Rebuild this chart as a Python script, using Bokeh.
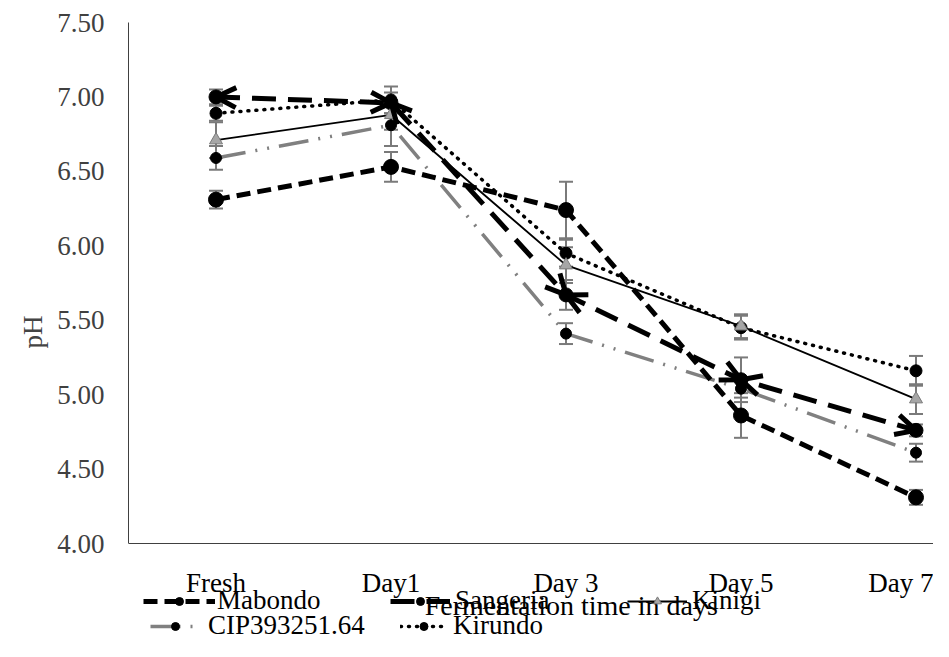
import numpy as np
from bokeh.plotting import figure
from bokeh.models import (ColumnDataSource, Whisker, Arrow, OpenHead, TeeHead, Legend,
                          LegendItem, Label, FixedTicker, Range1d, NumeralTickFormatter)
from bokeh.embed import file_html
from bokeh.resources import INLINE

# ---- data ----
cats = ["Fresh", "Day1", "Day 3", "Day 5", "Day 7"]
mabondo = [6.31, 6.53, 6.24, 4.86, 4.31]
sangeria = [7.00, 6.96, 5.67, 5.10, 4.76]
kinigi = [6.71, 6.88, 5.87, 5.46, 4.97]
cip = [6.59, 6.81, 5.41, 5.04, 4.61]
kirundo = [6.89, 6.98, 5.95, 5.45, 5.16]

mabondo_err = [0.06, 0.10, 0.19, 0.15, 0.05]
sangeria_err = [0.05, 0.07, 0.10, 0.15, 0.04]
kinigi_err = [0.12, 0.10, 0.12, 0.08, 0.10]
cip_err = [0.08, 0.14, 0.07, 0.06, 0.06]
kirundo_err = [0.05, 0.09, 0.09, 0.08, 0.10]

y_ticks = [4.0, 4.5, 5.0, 5.5, 6.0, 6.5, 7.0, 7.5]
y_min, y_max = 4.0, 7.5
x_title = "Fermentation time in days"
y_title = "pH"

FONT = "Liberation Serif"
FS = "27px"

W, H = 933, 641
LEFT, TOP = 128, 22
AXIS_PX = 521                       # pixel height of the 4.0..7.5 span
px_per_unit = AXIS_PX / (y_max - y_min)
y_start = y_max - (H - TOP) / px_per_unit
cat_px = 175
x_end = (W - LEFT) / cat_px

xs = list(np.arange(len(cats)) + 0.5)

p = figure(width=W, height=H, output_backend="svg", toolbar_location=None,
           x_range=Range1d(0, x_end), y_range=Range1d(y_start, y_max),
           min_border_left=LEFT, min_border_right=0, min_border_top=TOP, min_border_bottom=0)
p.grid.visible = False
p.outline_line_color = None
p.background_fill_color = "white"
p.border_fill_color = "white"

# axes
p.yaxis.ticker = FixedTicker(ticks=y_ticks)
p.yaxis.formatter = NumeralTickFormatter(format="0.00")
p.yaxis.bounds = (y_min, y_max)
p.xaxis.ticker = FixedTicker(ticks=xs)
p.xaxis.major_label_overrides = {float(x): c for x, c in zip(xs, cats)}
p.xaxis.fixed_location = y_min
for ax in (p.xaxis, p.yaxis):
    ax.major_tick_line_color = None
    ax.minor_tick_line_color = None
    ax.major_tick_out = 0
    ax.major_tick_in = 0
    ax.axis_line_color = "#404040"
    ax.axis_line_width = 1
    ax.major_label_text_font = FONT
    ax.major_label_text_font_size = FS
p.yaxis.major_label_text_color = "#404040"
p.xaxis.major_label_text_color = "black"
p.yaxis.major_label_standoff = 24
p.xaxis.major_label_standoff = 24
p.yaxis.axis_label = y_title
p.yaxis.axis_label_text_font = FONT
p.yaxis.axis_label_text_font_size = FS
p.yaxis.axis_label_text_font_style = "normal"
p.yaxis.axis_label_standoff = 6

# error bars
for vals, errs in [(mabondo, mabondo_err), (sangeria, sangeria_err), (kinigi, kinigi_err),
                   (cip, cip_err), (kirundo, kirundo_err)]:
    src = ColumnDataSource(dict(x=xs, upper=[v + e for v, e in zip(vals, errs)],
                                lower=[v - e for v, e in zip(vals, errs)]))
    w = Whisker(base="x", upper="upper", lower="lower", source=src,
                line_color="#7a7a7a", line_width=2,
                upper_head=TeeHead(size=14, line_color="#7a7a7a", line_width=2),
                lower_head=TeeHead(size=14, line_color="#7a7a7a", line_width=2))
    p.add_layout(w)

# series
r_cip_l = p.line(xs, cip, line_color="#808080", line_width=3.5, line_dash="30 10 2 10 2 10")
r_cip_m = p.scatter(xs, cip, marker="circle", size=11, fill_color="black", line_color="black")

r_mab_l = p.line(xs, mabondo, line_color="black", line_width=5, line_dash="14 7")
r_mab_m = p.scatter(xs, mabondo, marker="circle", size=15, fill_color="black", line_color="black")

r_san_l = p.line(xs, sangeria, line_color="black", line_width=5, line_dash="24 12")
r_san_m = p.scatter(xs, sangeria, marker="circle", size=14, fill_color="black", line_color="black")
asrc = ColumnDataSource(dict(x0=xs[:-1], y0=sangeria[:-1], x1=xs[1:], y1=sangeria[1:]))
arr = Arrow(source=asrc, x_start="x0", y_start="y0", x_end="x1", y_end="y1",
            line_alpha=0,
            start=OpenHead(size=20, line_width=5, line_color="black"),
            end=OpenHead(size=20, line_width=5, line_color="black"))
p.add_layout(arr)

r_kir_l = p.line(xs, kirundo, line_color="black", line_width=3.5, line_dash="1 7", line_cap="round")
r_kir_m = p.scatter(xs, kirundo, marker="circle", size=12, fill_color="black", line_color="black")

r_kin_l = p.line(xs, kinigi, line_color="black", line_width=1.8)
r_kin_m = p.scatter(xs, kinigi, marker="triangle", size=13, fill_color="#a6a6a6", line_color="#7a7a7a")

# x axis title (sits centred under the full category span, as in the source)
title_y = y_max - (605 - TOP) / px_per_unit
p.add_layout(Label(x=len(cats) / 2 + 0.03, y=title_y, text=x_title, text_align="center",
                   text_baseline="alphabetic", text_font=FONT, text_font_size="28px",
                   text_color="black"))


def add_leg(label, rends, x, y, gw, standoff):
    lg = Legend(items=[LegendItem(label=label, renderers=rends)], location=(x, y),
                orientation="horizontal", glyph_width=gw, glyph_height=20, label_height=20,
                label_standoff=standoff, padding=0, margin=0, spacing=0,
                border_line_color=None, background_fill_alpha=0,
                label_text_font=FONT, label_text_font_size=FS, label_text_color="black")
    p.add_layout(lg, "center")


add_leg("Mabondo", [r_mab_l, r_mab_m], 15, 25, 72, 2)
add_leg("Sangeria", [r_san_l, r_san_m], 262, 25, 60, 5)
add_leg("Kinigi", [r_kin_l, r_kin_m], 499, 25, 60, 5)
add_leg("CIP393251.64", [r_cip_l, r_cip_m], 22, 0, 50, 8)
add_leg("Kirundo", [r_kir_l, r_kir_m], 272, 0, 47, 6)

open("out.html", "w").write(file_html(p, INLINE))
